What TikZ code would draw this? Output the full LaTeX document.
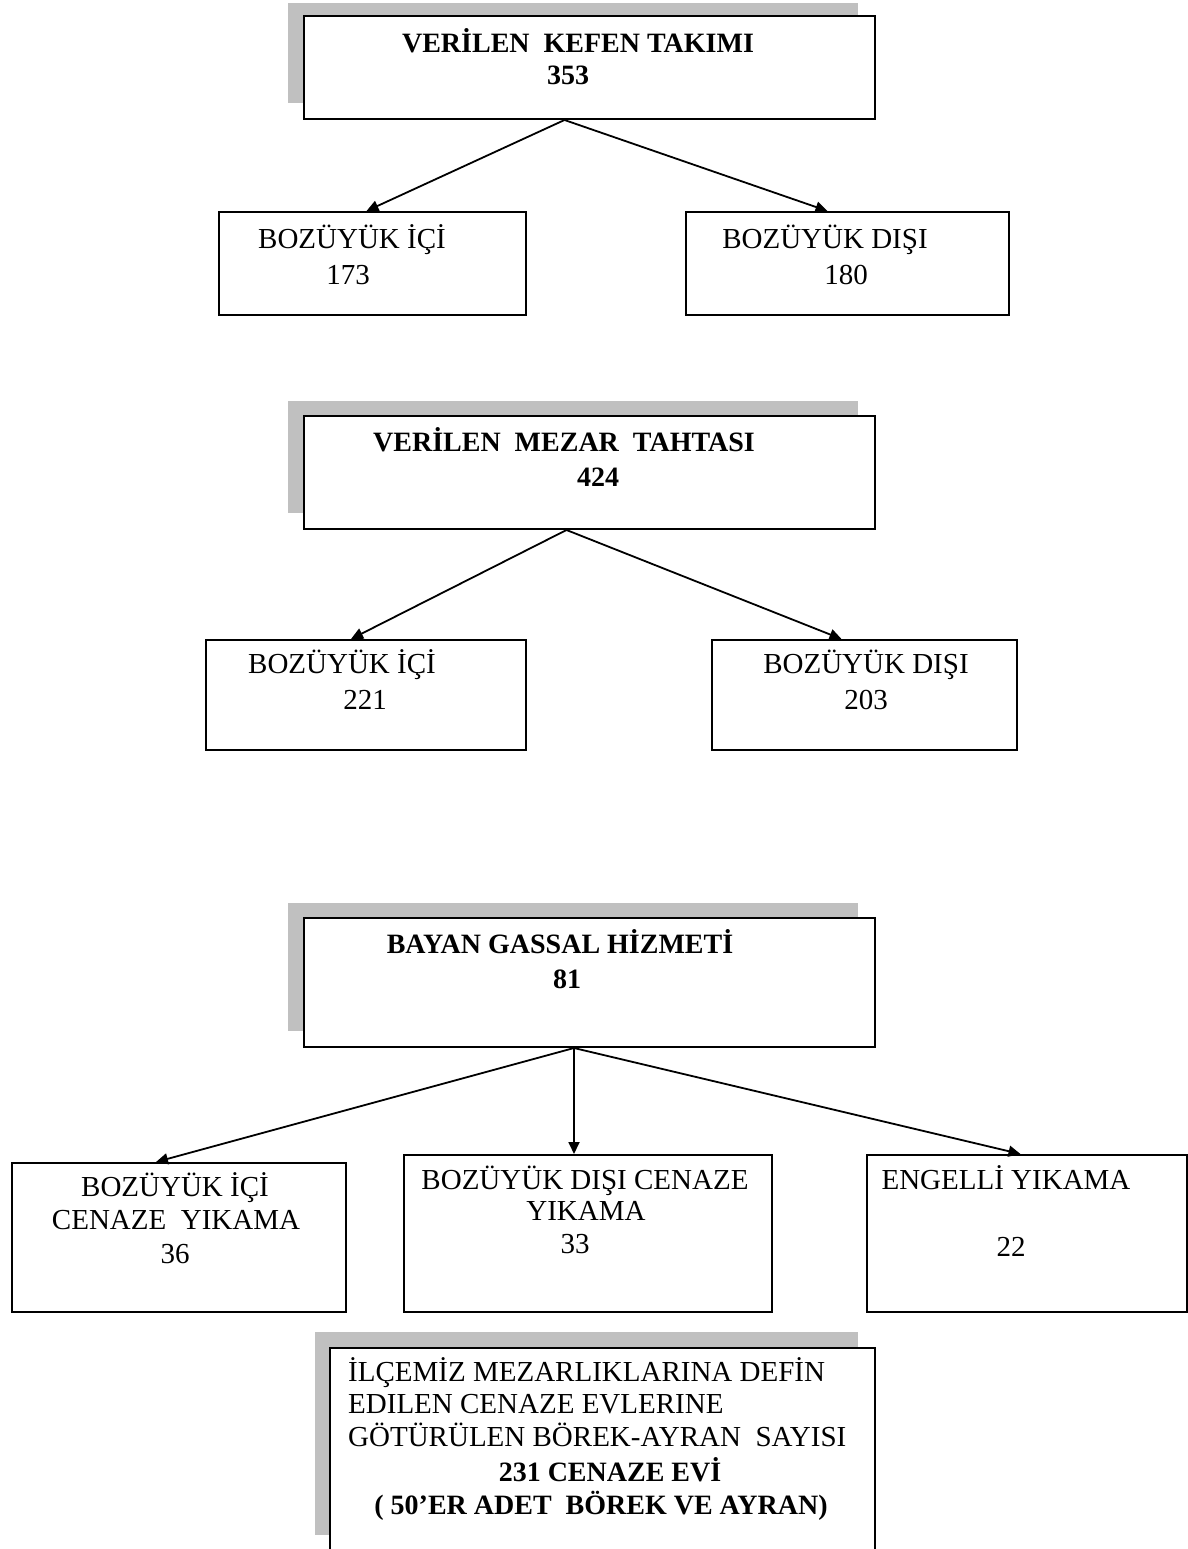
\documentclass[tikz,border=0pt]{standalone}
\usepackage{fontspec}
\setmainfont{Liberation Serif}
\usetikzlibrary{arrows.meta}
\definecolor{shadowgray}{HTML}{C0C0C0}
\tikzset{
  box/.style={draw=black, line width=2pt, fill=white, inner sep=0pt, anchor=north west},
  shade/.style={fill=shadowgray, draw=none},
  lbl/.style={font=\fontsize{29}{33}\selectfont, inner sep=0pt, anchor=base},
  blbl/.style={font=\fontsize{28}{32}\selectfont\bfseries, inner sep=0pt, anchor=base},
  llbl/.style={lbl, anchor=base west},
  arr/.style={line width=1.8pt, -{Triangle[length=12pt,width=11pt]}}
}
\begin{document}
\begin{tikzpicture}[x=1pt,y=-1pt]
\useasboundingbox (0,0) rectangle (1187,1549);
% shadows
\fill[shade] (288,3) rectangle (858,103);
\fill[shade] (288,401) rectangle (858,513);
\fill[shade] (288,903) rectangle (858,1031);
\fill[shade] (315,1332) rectangle (858,1535);
% boxes
\node[box, minimum width=571pt, minimum height=103pt] (k) at (303,15) {};
\node[box, minimum width=307pt, minimum height=103pt] (k1) at (218,211) {};
\node[box, minimum width=323pt, minimum height=103pt] (k2) at (685,211) {};
\node[box, minimum width=571pt, minimum height=113pt] (m) at (303,415) {};
\node[box, minimum width=320pt, minimum height=110pt] (m1) at (205,639) {};
\node[box, minimum width=305pt, minimum height=110pt] (m2) at (711,639) {};
\node[box, minimum width=571pt, minimum height=129pt] (g) at (303,917) {};
\node[box, minimum width=334pt, minimum height=149pt] (g1) at (11,1162) {};
\node[box, minimum width=368pt, minimum height=157pt] (g2) at (403,1154) {};
\node[box, minimum width=320pt, minimum height=157pt] (g3) at (866,1154) {};
\node[box, minimum width=545pt, minimum height=205pt] (b) at (329,1347) {};
% connectors
\draw[arr] ([xshift=-25pt]k.south) -- ([xshift=-6pt]k1.north);
\draw[arr] ([xshift=-25pt]k.south) -- ([xshift=-20pt]k2.north);
\draw[arr] ([xshift=-23pt]m.south) -- ([xshift=-15pt]m1.north);
\draw[arr] ([xshift=-23pt]m.south) -- ([xshift=-23pt]m2.north);
\draw[arr] ([xshift=-15.5pt]g.south) -- ([xshift=-23pt]g1.north);
\draw[arr] ([xshift=-15.5pt]g.south) -- ([xshift=-14pt]g2.north);
\draw[arr] ([xshift=-15.5pt]g.south) -- ([xshift=-6.5pt]g3.north);
% texts
\node[blbl] (kt1) at (578,53) {VERİLEN\ \ KEFEN TAKIMI};
\node[blbl] (kt2) at (568,85) {353};
\node[lbl] (k1t1) at (352,248) {BOZÜYÜK İÇİ};
\node[lbl] (k1t2) at (348,284) {173};
\node[lbl] (k2t1) at (825,248) {BOZÜYÜK DIŞI};
\node[lbl] (k2t2) at (846,284) {180};
\node[blbl] (mt1) at (564,451) {VERİLEN\ \ MEZAR\ \ TAHTASI};
\node[blbl] (mt2) at (598,486) {424};
\node[lbl] (m1t1) at (342,673) {BOZÜYÜK İÇİ};
\node[lbl] (m1t2) at (365,709) {221};
\node[lbl] (m2t1) at (866,673) {BOZÜYÜK DIŞI};
\node[lbl] (m2t2) at (866,709) {203};
\node[blbl] (gt1) at (560,953) {BAYAN GASSAL HİZMETİ};
\node[blbl] (gt2) at (567,988) {81};
\node[lbl] (g1t1) at (175,1196) {BOZÜYÜK İÇİ};
\node[lbl] (g1t2) at (176,1229) {CENAZE\ \ YIKAMA};
\node[lbl] (g1t3) at (175,1263) {36};
\node[lbl] (g2t1) at (585,1189) {BOZÜYÜK DIŞI CENAZE};
\node[lbl] (g2t2) at (586,1220) {YIKAMA};
\node[lbl] (g2t3) at (575,1253) {33};
\node[lbl] (g3t1) at (1006,1189) {ENGELLİ YIKAMA};
\node[lbl] (g3t2) at (1011,1256) {22};
\node[llbl] (bt1) at (348,1381) {İLÇEMİZ MEZARLIKLARINA DEFİN};
\node[llbl] (bt2) at (348,1413) {EDILEN CENAZE EVLERINE};
\node[llbl] (bt3) at (348,1446) {GÖTÜRÜLEN BÖREK-AYRAN\ \ SAYISI};
\node[blbl] (bt4) at (610,1481) {231 CENAZE EVİ};
\node[blbl] (bt5) at (601,1514) {( 50’ER ADET\ \ BÖREK VE AYRAN)};
\end{tikzpicture}
\end{document}
